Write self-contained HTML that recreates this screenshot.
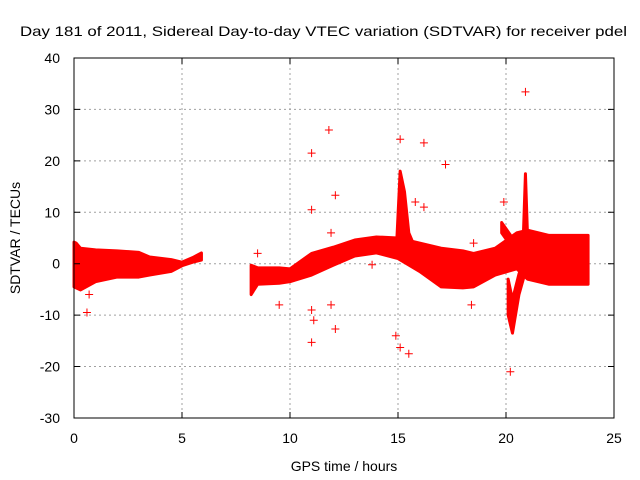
<!DOCTYPE html>
<html><head><meta charset="utf-8"><style>
body{margin:0;background:#fff}
svg{display:block;font-family:"Liberation Sans",sans-serif}
</style></head><body>
<svg id="chart" width="640" height="480">
<text x="20" y="36" font-size="14" textLength="607" lengthAdjust="spacingAndGlyphs">Day 181 of 2011, Sidereal Day-to-day VTEC variation (SDTVAR) for receiver pdel</text>
<g id="grid"></g>
<g id="marks"></g>
<rect x="74" y="58" width="540" height="360" fill="none" stroke="#000"/>
<g id="axes" font-size="14"></g>
<text x="344" y="471" font-size="14" text-anchor="middle">GPS time / hours</text>
<text transform="translate(20,238) rotate(-90)" font-size="14" text-anchor="middle">SDTVAR / TECUs</text>
</svg>
<script>
const xTicks=[0,5,10,15,20,25];
const yTicks=[40,30,20,10,0,-10,-20,-30];
// dense bands: hours, upper, lower envelope
const band1Hours=[0,0.1,0.3,1,2,3,3.5,4.5,5,5.5,5.9];
const band1Hi=[4.2,4,3,2.7,2.5,2.2,1.3,0.8,0.3,1.2,2.1];
const band1Lo=[-4.5,-4.7,-5.1,-3.5,-2.6,-2.6,-2.2,-1.5,-0.4,0.3,0.7];
const band2Hours=[8.2,8.5,9.5,10,11,12,13,14,15,16,17,18,18.5,19.5,20.5,21,22,23,23.8];
const band2Hi=[-0.3,-0.8,-0.8,-1,2,3.2,4.6,5.2,5,4,3,2.5,2,3,6,6.5,5.5,5.5,5.5];
const band2Lo=[-6,-4,-3.8,-3.5,-2.2,-0.3,1.5,2.1,1,-1.5,-4.5,-4.7,-4.5,-2.2,-1,-3,-4,-4,-4];
const spikeAHours=[14.95,15.1,15.3,15.5,15.7];
const spikeAHi=[5,18,14,6,4];
const spikeALo=[3,4,3,1,0];
const spikeBHours=[20.8,20.9,21.0];
const spikeBHi=[5,17.5,5];
const spikeBLo=[0,0,0];
const tailHours=[20.1,20.3,20.6,21.0];
const tailHi=[-3,-7,-2,2];
const tailLo=[-10,-13.5,-6,0];
const forkHours=[19.8,20.3,20.8];
const forkHi=[8,5,4];
const forkLo=[6,3,1];
// outlier points
const outX=[0.6,0.7,8.5,9.5,11.0,11.0,11.8,12.1,11.9,11.0,11.1,11.0,12.1,11.9,13.8,15.1,16.2,17.2,14.9,15.1,15.5,20.9,20.2,19.9,15.8,16.2,18.4,18.5];
const outY=[-9.5,-6,2,-8,21.5,10.5,26,13.3,6,-9,-11,-15.3,-12.7,-8,-0.2,24.2,23.5,19.3,-14,-16.3,-17.5,33.4,-21,12,12,11,-8,4];

const NS='http://www.w3.org/2000/svg';
const X=h=>74+h*21.6;
const Y=v=>263.7-v*5.143;
function mk(t,a,p){const e=document.createElementNS(NS,t);for(const k in a)e.setAttribute(k,a[k]);p.appendChild(e);return e;}
const grid=document.getElementById('grid'),axes=document.getElementById('axes'),marks=document.getElementById('marks');
xTicks.forEach(t=>{
  if(t>0&&t<25){const l=mk('line',{x1:X(t),x2:X(t),y1:58,y2:418,stroke:'#a0a0a0','stroke-dasharray':'2,3'},grid);
  
  }
  const tk=mk('path',{d:`M${X(t)},418v-6M${X(t)},58v6`,stroke:'#000'},axes);
  
  
  const tx=mk('text',{x:X(t),y:443,'text-anchor':'middle'},axes);tx.textContent=t;
  
  
});
yTicks.forEach(t=>{
  if(t<40&&t>-30){const l=mk('line',{x1:74,x2:614,y1:Y(t),y2:Y(t),stroke:'#a0a0a0','stroke-dasharray':'2,3'},grid);
  
  }
  const tk=mk('path',{d:`M74,${Y(t)}h6M614,${Y(t)}h-6`,stroke:'#000'},axes);
  
  
  const tx=mk('text',{x:60,y:Y(t)+5,'text-anchor':'end'},axes);tx.textContent=t;
  
  
});
function band(hs,hi,lo,name){
  const pts=[];hs.forEach((h,i)=>pts.push(X(h)+','+Y(hi[i])));
  for(let i=hs.length-1;i>=0;i--)pts.push(X(hs[i])+','+Y(lo[i]));
  const p=mk('polygon',{points:pts.join(' '),fill:'#f00',stroke:'#f00','stroke-width':3,'stroke-linejoin':'round'},marks);
  
  
}
band(band1Hours,band1Hi,band1Lo,'band-early');
band(band2Hours,band2Hi,band2Lo,'band-main');
band(spikeAHours,spikeAHi,spikeALo,'spike-15h');
band(spikeBHours,spikeBHi,spikeBLo,'spike-21h');
band(tailHours,tailHi,tailLo,'tail-20h');
band(forkHours,forkHi,forkLo,'fork-20h');
outX.forEach((h,i)=>{
  const x=X(h),y=Y(outY[i]);
  const p=mk('path',{d:`M${x-4},${y}H${x+4}M${x},${y-4}V${y+4}`,stroke:'#f00','stroke-width':1},marks);
  
  
});
</script>
</body></html>
